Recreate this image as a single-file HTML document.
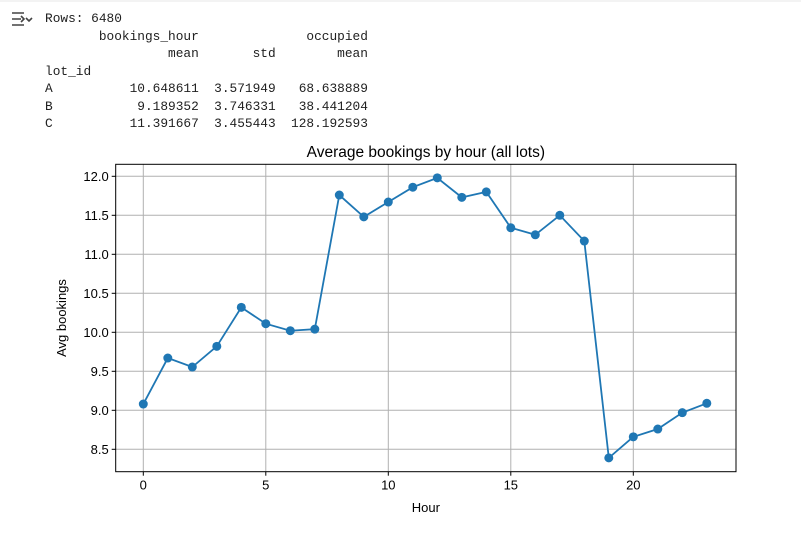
<!DOCTYPE html>
<html><head><meta charset="utf-8"><style>
body{margin:0;background:#fff;width:801px;height:542px;overflow:hidden;position:relative;font-family:"Liberation Sans","DejaVu Sans",sans-serif}
pre{position:absolute;left:45px;top:10px;margin:0;font-family:"Liberation Mono","DejaVu Sans Mono",monospace;font-size:12.82px;line-height:17.5px;color:#212121}
svg{position:absolute;left:0;top:0}
</style></head><body>
<div style="position:absolute;left:0;top:0;width:801px;height:2px;background:#f3f3f3"></div>
<svg width="30" height="30" style="left:8px;top:8px" viewBox="0 0 30 30"><path d="M4 5h12M4 11h9M4 17h12M13 8l3 3-3 3M18 10l3 3 3-3" stroke="#444" stroke-width="1.6" fill="none"/></svg>
<pre>Rows: 6480
       bookings_hour              occupied
                mean       std        mean
lot_id
A          10.648611  3.571949   68.638889
B           9.189352  3.746331   38.441204
C          11.391667  3.455443  128.192593</pre>
<svg id="chart" width="801" height="542"></svg>
<script>
const hours=[0,1,2,3,4,5,6,7,8,9,10,11,12,13,14,15,16,17,18,19,20,21,22,23];
const avgBookings=[9.08,9.67,9.555,9.82,10.32,10.11,10.02,10.04,11.76,11.48,11.67,11.86,11.98,11.73,11.80,11.34,11.25,11.50,11.17,8.39,8.66,8.76,8.97,9.09];
const xTicks=[0,5,10,15,20];
const yTicks=[8.5,9.0,9.5,10.0,10.5,11.0,11.5,12.0];
const svg=document.getElementById('chart');const NS='http://www.w3.org/2000/svg';
const L=115.7,R=736,T=164.3,B=471.7;
const x=v=>143.3+v*24.5;const y=v=>410.3-(v-9)*78;
function mk(t,a,txt){const e=document.createElementNS(NS,t);for(const k in a)e.setAttribute(k,a[k]);if(txt!==undefined)e.textContent=txt;svg.appendChild(e);return e;}
xTicks.forEach(v=>{let g=mk('line',{x1:x(v),x2:x(v),y1:T,y2:B,stroke:'#b0b0b0','stroke-width':1});


mk('line',{x1:x(v),x2:x(v),y1:B,y2:B+4,stroke:'#000'});
let t=mk('text',{x:x(v),y:B+18,'text-anchor':'middle','font-size':13,fill:'#000'},String(v));

});
yTicks.forEach(v=>{let g=mk('line',{x1:L,x2:R,y1:y(v),y2:y(v),stroke:'#b0b0b0','stroke-width':1});


mk('line',{x1:L-4,x2:L,y1:y(v),y2:y(v),stroke:'#000'});
let t=mk('text',{x:L-7,y:y(v)+4.5,'text-anchor':'end','font-size':13,fill:'#000'},v.toFixed(1));

});
let fr=mk('rect',{x:L,y:T,width:R-L,height:B-T,fill:'none',stroke:'#000','stroke-width':1});


let ln=mk('polyline',{points:hours.map((h,i)=>x(h)+','+y(avgBookings[i])).join(' '),fill:'none',stroke:'#1f77b4','stroke-width':1.8});


hours.forEach((h,i)=>{let c=mk('circle',{cx:x(h),cy:y(avgBookings[i]),r:4.5,fill:'#1f77b4'});

});
let tt=mk('text',{x:(L+R)/2,y:157,'text-anchor':'middle','font-size':15.5,fill:'#000'},'Average bookings by hour (all lots)');


let xt=mk('text',{x:(L+R)/2,y:512,'text-anchor':'middle','font-size':13,fill:'#000'},'Hour');


let yt=mk('text',{x:0,y:0,'text-anchor':'middle','font-size':13,fill:'#000',transform:'translate(66,'+((T+B)/2)+') rotate(-90)'},'Avg bookings');


</script>
</body></html>
